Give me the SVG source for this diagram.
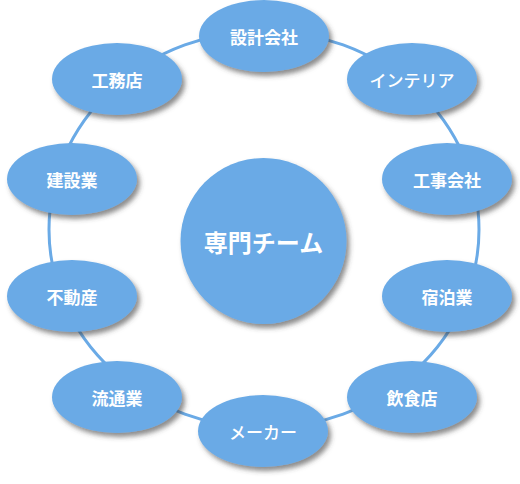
<svg xmlns="http://www.w3.org/2000/svg" width="520" height="484" viewBox="0 0 520 484">
<style>
.n{fill:#6aaae6;filter:url(#sh)}
.t{fill:#fff;font-family:"Noto Sans CJK JP","Noto Sans",sans-serif;font-size:17px;font-weight:bold;text-anchor:middle;dominant-baseline:central}
.k{font-weight:500}
.c{font-size:24px}
</style>
<defs>
<filter id="sh" x="-20%" y="-20%" width="140%" height="150%">
<feDropShadow dx="3" dy="4" stdDeviation="2.5" flood-color="#404040" flood-opacity="0.6"/>
</filter>
</defs>
<rect width="520" height="484" fill="#fff"/>
<g id="connectors">
<ellipse cx="264" cy="229.5" rx="215" ry="198.5" fill="none" stroke="#6aaae6" stroke-width="3"/>
</g>
<g id="center"><circle class="n" cx="263.5" cy="241" r="83"/><text class="t c" x="263.5" y="241">専門チーム</text></g>
<g id="n1"><ellipse class="n" cx="264" cy="36" rx="65" ry="36"/><text class="t" x="264" y="36">設計会社</text></g>
<g id="n2"><ellipse class="n" cx="412" cy="79" rx="65" ry="36"/><text class="t k" x="412" y="79">インテリア</text></g>
<g id="n3"><ellipse class="n" cx="447" cy="179" rx="65" ry="36"/><text class="t" x="447" y="179">工事会社</text></g>
<g id="n4"><ellipse class="n" cx="447" cy="296" rx="65" ry="36"/><text class="t" x="447" y="296">宿泊業</text></g>
<g id="n5"><ellipse class="n" cx="412" cy="397" rx="65" ry="36"/><text class="t" x="412" y="397">飲食店</text></g>
<g id="n6"><ellipse class="n" cx="263" cy="431" rx="65" ry="36"/><text class="t k" x="263" y="431">メーカー</text></g>
<g id="n7"><ellipse class="n" cx="117" cy="397" rx="65" ry="36"/><text class="t" x="117" y="397">流通業</text></g>
<g id="n8"><ellipse class="n" cx="72" cy="296" rx="65" ry="36"/><text class="t" x="72" y="296">不動産</text></g>
<g id="n9"><ellipse class="n" cx="72" cy="179" rx="65" ry="36"/><text class="t" x="72" y="179">建設業</text></g>
<g id="n10"><ellipse class="n" cx="117" cy="79" rx="65" ry="36"/><text class="t" x="117" y="79">工務店</text></g>
</svg>
